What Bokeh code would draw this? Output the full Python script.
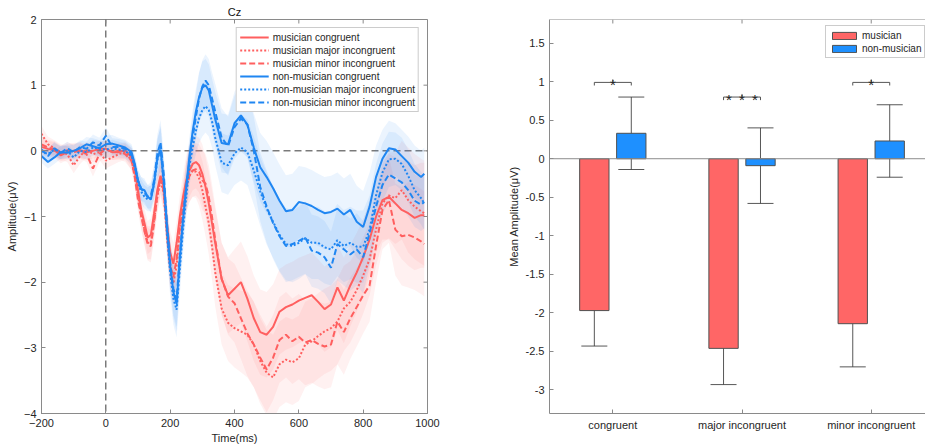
import numpy as np
from bokeh.plotting import figure
from bokeh.models import (ColumnDataSource, FixedTicker, Range1d,
                          Span, NumeralTickFormatter, Whisker, TeeHead)
from bokeh.layouts import row
from bokeh.embed import file_html
from bokeh.resources import INLINE
from bokeh.core.properties import value

FONT = "Liberation Sans"
TXT = "#262626"
AX = "#8a8a8a"
RED_LINE = "#FF5F5F"
BLUE_LINE = "#1F86F2"
RED_BAR = "#FF6666"
BLUE_BAR = "#1E90FF"

# ---------------- ERP data (Cz) ----------------
time_ms = [-200, -180, -160, -140, -120, -100, -80, -60, -40, -20, 0, 20, 40, 60, 80,
           90, 100, 110, 120, 130, 140, 150, 160, 170, 180, 190, 200, 210, 220, 230,
           240, 250, 260, 270, 280, 290, 300, 310, 320, 330, 340,
           360, 380, 400, 420, 440, 460, 480, 500, 520, 540, 560, 580, 600, 620, 640,
           660, 680, 700, 720, 740, 760, 780, 800, 820, 840, 860, 880, 900, 920, 940,
           960, 980, 990]

mus_congruent = [0.06, 0.03, 0.01, -0.07, -0.02, 0.00, 0.01, -0.02, 0.00, 0.03, 0.03, -0.02, -0.02, 0.01, -0.10,
                 -0.30, -0.60, -0.90, -1.10, -1.32, -1.28, -0.95, -0.60, -0.38, -0.55, -1.10, -1.55, -1.72, -1.40, -1.00,
                 -0.70, -0.45, -0.30, -0.20, -0.17, -0.22, -0.35, -0.55, -0.80, -1.10, -1.40,
                 -1.95, -2.20, -2.10, -2.00, -2.25, -2.55, -2.76, -2.80, -2.68, -2.45, -2.38, -2.34, -2.28, -2.24, -2.20,
                 -2.30, -2.41, -2.34, -2.08, -2.28, -2.05, -1.85, -1.62, -1.35, -1.00, -0.75, -0.70, -0.80, -0.90, -0.95,
                 -1.02, -0.98, -0.98]
mus_major = [0.26, 0.10, 0.04, -0.02, -0.05, -0.22, -0.08, 0.02, -0.05, -0.02, -0.15, -0.10, -0.05, -0.02, -0.15,
             -0.38, -0.68, -0.98, -1.20, -1.40, -1.40, -1.05, -0.70, -0.45, -0.65, -1.30, -1.80, -2.02, -1.75, -1.20,
             -0.85, -0.55, -0.38, -0.30, -0.32, -0.42, -0.60, -0.85, -1.10, -1.45, -1.85,
             -2.40, -2.62, -2.70, -2.75, -2.80, -2.95, -3.20, -3.38, -3.45, -3.25, -3.18, -3.22, -3.16, -2.95, -2.90,
             -2.82, -2.75, -2.70, -2.60, -2.40, -2.30, -2.12, -1.90, -1.65, -1.20, -0.80, -0.68, -0.72, -0.60, -0.75,
             -0.85, -0.92, -0.95]
mus_minor = [0.10, 0.05, 0.03, -0.04, 0.01, -0.02, 0.00, -0.05, -0.27, -0.05, 0.03, -0.02, 0.00, -0.05, -0.15,
             -0.40, -0.75, -1.00, -1.22, -1.42, -1.45, -1.10, -0.68, -0.40, -0.62, -1.25, -1.75, -1.92, -1.65, -1.15,
             -0.85, -0.55, -0.38, -0.30, -0.28, -0.32, -0.45, -0.50, -0.70, -1.00, -1.35,
             -1.95, -2.22, -2.32, -2.55, -2.78, -2.95, -3.15, -3.33, -3.15, -2.88, -2.80, -2.90, -2.83, -2.92, -2.88,
             -2.94, -2.98, -2.95, -2.60, -2.76, -2.55, -2.38, -2.20, -2.05, -1.45, -0.90, -0.75, -1.20, -1.30, -1.28,
             -1.32, -1.38, -1.42]
non_congruent = [-0.08, -0.17, -0.10, -0.02, -0.03, 0.00, 0.04, 0.10, 0.07, 0.04, 0.10, 0.11, 0.08, 0.05, -0.02,
                 -0.20, -0.45, -0.58, -0.60, -0.70, -0.74, -0.50, -0.12, 0.02, -0.45, -1.15, -1.75, -2.15, -2.33, -1.65,
                 -1.05, -0.55, -0.08, 0.30, 0.60, 0.82, 0.96, 1.00, 0.92, 0.70, 0.48,
                 0.12, 0.10, 0.42, 0.54, 0.40, 0.05, -0.25, -0.40, -0.57, -0.76, -0.92, -0.90, -0.78, -0.80, -0.84,
                 -0.90, -0.95, -0.93, -0.88, -0.97, -0.90, -1.08, -1.16, -0.85, -0.40, -0.12, 0.04, 0.02, -0.08, -0.18,
                 -0.32, -0.40, -0.35]
non_major = [0.00, -0.05, 0.02, -0.03, 0.00, -0.10, 0.00, -0.02, 0.05, 0.03, 0.02, 0.04, 0.02, 0.00, -0.08,
             -0.25, -0.50, -0.62, -0.70, -0.74, -0.72, -0.50, -0.15, 0.05, -0.50, -1.25, -1.85, -2.25, -2.42, -1.80,
             -1.20, -0.70, -0.22, 0.05, 0.30, 0.50, 0.62, 0.68, 0.62, 0.45, 0.20,
             -0.18, -0.22, -0.04, 0.05, -0.02, -0.30, -0.62, -0.88, -1.08, -1.28, -1.42, -1.45, -1.40, -1.33, -1.40,
             -1.40, -1.47, -1.50, -1.36, -1.45, -1.40, -1.46, -1.46, -1.20, -0.68, -0.33, -0.13, -0.12, -0.20, -0.38,
             -0.60, -0.72, -0.80]
non_minor = [0.02, -0.08, 0.04, -0.03, 0.04, -0.02, 0.06, 0.03, 0.13, 0.08, 0.23, 0.06, 0.06, 0.03, -0.05,
             -0.22, -0.45, -0.58, -0.64, -0.70, -0.68, -0.45, -0.05, 0.13, -0.35, -1.10, -1.70, -2.10, -2.26, -1.60,
             -1.00, -0.55, -0.15, 0.20, 0.52, 0.80, 0.98, 1.07, 1.00, 0.80, 0.60,
             0.20, 0.07, 0.36, 0.49, 0.40, 0.00, -0.55, -0.85, -1.10, -1.30, -1.45, -1.42, -1.37, -1.32, -1.52,
             -1.55, -1.62, -1.78, -1.42, -1.50, -1.58, -1.50, -1.62, -1.25, -0.85, -0.52, -0.36, -0.42, -0.48, -0.60,
             -0.76, -0.82, -0.78]

# standard-error half widths of the shaded bands
mus_se = [0.12, 0.12, 0.12, 0.12, 0.12, 0.12, 0.12, 0.12, 0.12, 0.12, 0.12, 0.12, 0.12, 0.12, 0.14,
          0.16, 0.18, 0.20, 0.22, 0.25, 0.25, 0.25, 0.25, 0.25, 0.28, 0.30, 0.32, 0.32, 0.32, 0.32,
          0.35, 0.38, 0.40, 0.40, 0.40, 0.42, 0.45, 0.45, 0.48, 0.50, 0.52,
          0.55, 0.58, 0.60, 0.62, 0.65, 0.65, 0.65, 0.65, 0.65, 0.65, 0.65, 0.65, 0.65, 0.65, 0.65,
          0.65, 0.65, 0.65, 0.65, 0.65, 0.62, 0.60, 0.58, 0.55, 0.55, 0.60, 0.65, 0.70, 0.75, 0.80,
          0.80, 0.80, 0.80]
non_se = [0.10, 0.10, 0.10, 0.10, 0.10, 0.10, 0.10, 0.11, 0.12, 0.12, 0.13, 0.13, 0.12, 0.12, 0.12,
          0.14, 0.16, 0.18, 0.18, 0.18, 0.20, 0.24, 0.30, 0.34, 0.32, 0.32, 0.36, 0.40, 0.42, 0.40,
          0.36, 0.32, 0.30, 0.32, 0.35, 0.38, 0.40, 0.40, 0.40, 0.40, 0.42,
          0.45, 0.45, 0.48, 0.50, 0.50, 0.52, 0.52, 0.55, 0.55, 0.55, 0.55, 0.55, 0.55, 0.55, 0.55,
          0.55, 0.55, 0.55, 0.55, 0.55, 0.55, 0.55, 0.55, 0.52, 0.48, 0.44, 0.42, 0.40, 0.40, 0.40,
          0.40, 0.40, 0.40]

erp_x_ticks = [-200, 0, 200, 400, 600, 800, 1000]
erp_y_ticks = [-4, -3, -2, -1, 0, 1, 2]

# ---------------- Mean amplitude data ----------------
conditions = ["congruent", "major incongruent", "minor incongruent"]
musician_mean = [-1.97, -2.46, -2.14]
musician_err = [0.46, 0.47, 0.56]
nonmusician_mean = [0.33, -0.09, 0.23]
nonmusician_err = [0.47, 0.49, 0.47]
sig_height = [0.99, 0.80, 0.99]
sig_stars = [1, 3, 1]
bar_y_ticks = [-3, -2.5, -2, -1.5, -1, -0.5, 0, 0.5, 1, 1.5]

TICK_PX = 4


def style_axis(ax):
    ax.axis_line_color = AX
    ax.axis_line_width = 1
    ax.major_tick_line_color = AX
    ax.major_tick_in = TICK_PX
    ax.major_tick_out = 0
    ax.minor_tick_line_color = None
    ax.major_label_text_font = FONT
    ax.major_label_text_font_size = "11px"
    ax.major_label_text_color = TXT
    ax.major_label_standoff = 5
    ax.axis_label_text_font = FONT
    ax.axis_label_text_font_size = "11px"
    ax.axis_label_text_font_style = "normal"
    ax.axis_label_text_color = TXT
    ax.axis_label_standoff = 3


# ================= Left: ERP waveforms =================
W1, H = 448, 448
B1 = dict(left=41, right=21, top=19, bottom=35)
p1 = figure(width=W1, height=H, x_range=Range1d(-200, 1000), y_range=Range1d(-4, 2),
            output_backend="svg", toolbar_location=None, title="Cz",
            min_border_left=B1["left"], min_border_right=B1["right"],
            min_border_top=B1["top"], min_border_bottom=B1["bottom"],
            x_axis_label="Time(ms)", y_axis_label="Amplitude(μV)")
p1.title.align = "center"
p1.title.text_font = FONT
p1.title.text_font_size = "11px"
p1.title.text_font_style = "normal"
p1.title.text_color = "#111111"
p1.title.standoff = 4
p1.title.offset = 0
p1.grid.visible = False
p1.outline_line_color = AX
p1.background_fill_color = "white"
p1.border_fill_color = "white"
p1.below[0].ticker = FixedTicker(ticks=erp_x_ticks)
p1.left[0].ticker = FixedTicker(ticks=erp_y_ticks)
style_axis(p1.below[0])
style_axis(p1.left[0])
p1.below[0].axis_label_standoff = 2

# mirrored inward ticks on the top and right edges of the box
fw1 = W1 - B1["left"] - B1["right"]
fh1 = H - B1["top"] - B1["bottom"]
dx1 = TICK_PX * (1000 - (-200)) / fw1
dy1 = TICK_PX * (2 - (-4)) / fh1
p1.segment(x0=erp_x_ticks, y0=[2] * len(erp_x_ticks), x1=erp_x_ticks,
           y1=[2 - dy1] * len(erp_x_ticks), line_color=AX, line_width=1)
p1.segment(x0=[1000] * len(erp_y_ticks), y0=erp_y_ticks, x1=[1000 - dx1] * len(erp_y_ticks),
           y1=erp_y_ticks, line_color=AX, line_width=1)

p1.add_layout(Span(location=0, dimension="width", line_color="#3a3a3a", line_width=1,
                   line_dash="7 4", level="underlay"))
p1.add_layout(Span(location=0, dimension="height", line_color="#3a3a3a", line_width=1,
                   line_dash="7 4", level="underlay"))

t = np.array(time_ms, dtype=float)
series = [
    ("musician congruent", mus_congruent, mus_se, RED_LINE, "solid"),
    ("musician major incongruent", mus_major, mus_se, RED_LINE, "2 2"),
    ("musician minor incongruent", mus_minor, mus_se, RED_LINE, "6 3"),
    ("non-musician congruent", non_congruent, non_se, BLUE_LINE, "solid"),
    ("non-musician major incongruent", non_major, non_se, BLUE_LINE, "2 2"),
    ("non-musician minor incongruent", non_minor, non_se, BLUE_LINE, "6 3"),
]
for name, vals, se, color, dash in series:
    v = np.array(vals, dtype=float)
    s = np.array(se, dtype=float)
    src = ColumnDataSource(dict(t=t, lo=v - s, hi=v + s))
    p1.varea(x="t", y1="lo", y2="hi", source=src, fill_color=color, fill_alpha=0.09)
for name, vals, se, color, dash in series:
    src = ColumnDataSource(dict(t=t, v=np.array(vals, dtype=float)))
    p1.line(x="t", y="v", source=src, line_color=color, line_width=2, line_dash=dash,
            legend_label=name)

lg = p1.legend[0]
lg.location = "top_right"
lg.margin = 8
lg.padding = 3
lg.spacing = 1
lg.glyph_width = 29
lg.glyph_height = 12
lg.label_height = 12
lg.label_standoff = 4
lg.label_text_font = FONT
lg.label_text_font_size = "10px"
lg.label_text_color = TXT
lg.border_line_color = "#9a9a9a"
lg.border_line_width = 1
lg.background_fill_alpha = 1.0

# ================= Right: mean amplitude bars =================
W2 = 925 - W1
B2 = dict(left=101, right=0, top=19, bottom=35)
y2_lo, y2_hi = -3.305, 1.806
p2 = figure(width=W2, height=H, x_range=Range1d(0.51, 3.42), y_range=Range1d(y2_lo, y2_hi),
            output_backend="svg", toolbar_location=None,
            min_border_left=B2["left"], min_border_right=B2["right"],
            min_border_top=B2["top"], min_border_bottom=B2["bottom"],
            y_axis_label="Mean Amplitude(μV)")
p2.grid.visible = False
p2.outline_line_color = None
p2.background_fill_color = "white"
p2.border_fill_color = "white"
cat_pos = list(range(1, len(conditions) + 1))
p2.below[0].ticker = FixedTicker(ticks=cat_pos)
p2.below[0].major_label_overrides = {i: c for i, c in zip(cat_pos, conditions)}
p2.left[0].ticker = FixedTicker(ticks=bar_y_ticks)
p2.left[0].formatter = NumeralTickFormatter(format="0.[0]")
style_axis(p2.below[0])
style_axis(p2.left[0])

# top edge of the box with inward ticks at the categories
fh2 = H - B2["top"] - B2["bottom"]
dy2 = TICK_PX * (y2_hi - y2_lo) / fh2
p2.add_layout(Span(location=y2_hi, dimension="width", line_color=AX, line_width=1))
p2.segment(x0=cat_pos, y0=[y2_hi] * len(cat_pos), x1=cat_pos, y1=[y2_hi - dy2] * len(cat_pos),
           line_color=AX, line_width=1)

dodge = 0.143
bar_w = 0.227
xm = np.array(cat_pos, dtype=float) - dodge
xn = np.array(cat_pos, dtype=float) + dodge
mm = np.array(musician_mean)
me = np.array(musician_err)
nm = np.array(nonmusician_mean)
ne = np.array(nonmusician_err)

p2.vbar(x=xm, top=mm, bottom=0, width=bar_w, fill_color=RED_BAR, line_color="#505050",
        line_width=1, legend_label="musician")
p2.vbar(x=xn, top=nm, bottom=0, width=bar_w, fill_color=BLUE_BAR, line_color="#505050",
        line_width=1, legend_label="non-musician")

p2.add_layout(Span(location=0, dimension="width", line_color="#8c8c8c", line_width=1))

err_src = ColumnDataSource(dict(x=np.concatenate([xm, xn]),
                                lower=np.concatenate([mm - me, nm - ne]),
                                upper=np.concatenate([mm + me, nm + ne])))
p2.add_layout(Whisker(source=err_src, base="x", upper="upper", lower="lower",
                      line_color="#3a3a3a", line_width=1, line_alpha=0.85,
                      upper_head=TeeHead(size=26, line_color="#3a3a3a", line_width=1, line_alpha=0.85),
                      lower_head=TeeHead(size=26, line_color="#3a3a3a", line_width=1, line_alpha=0.85)))

# significance brackets
leg = 0.04
br_xs, br_ys = [], []
for c, x0, x1, h in zip(cat_pos, xm, xn, sig_height):
    br_xs.append([x0, x0, x1, x1])
    br_ys.append([h - leg, h, h, h - leg])
    br_xs.append([c, c])
    br_ys.append([h, h + leg])
p2.multi_line(xs=br_xs, ys=br_ys, line_color="#555555", line_width=1)

st_x, st_y, st_off = [], [], []
for c, h, n in zip(cat_pos, sig_height, sig_stars):
    for k in range(n):
        st_x.append(c)
        st_y.append(h)
        st_off.append((k - (n - 1) / 2) * 13)
p2.text(x=st_x, y=st_y, text=["*"] * len(st_x), x_offset=st_off, y_offset=2,
        text_align="center", text_baseline="alphabetic", text_font=value(FONT),
        text_font_size="15px", text_color="#222222")

lg2 = p2.legend[0]
lg2.location = (276, 355)
lg2.margin = 0
lg2.padding = 3
lg2.spacing = 1
lg2.glyph_width = 30
lg2.glyph_height = 9
lg2.label_height = 12
lg2.label_standoff = 3
lg2.label_text_font = FONT
lg2.label_text_font_size = "10px"
lg2.label_text_color = TXT
lg2.border_line_color = "#9a9a9a"
lg2.border_line_width = 1

layout = row(p1, p2)
open("out.html", "w").write(file_html(layout, INLINE, title="ERP Cz"))
